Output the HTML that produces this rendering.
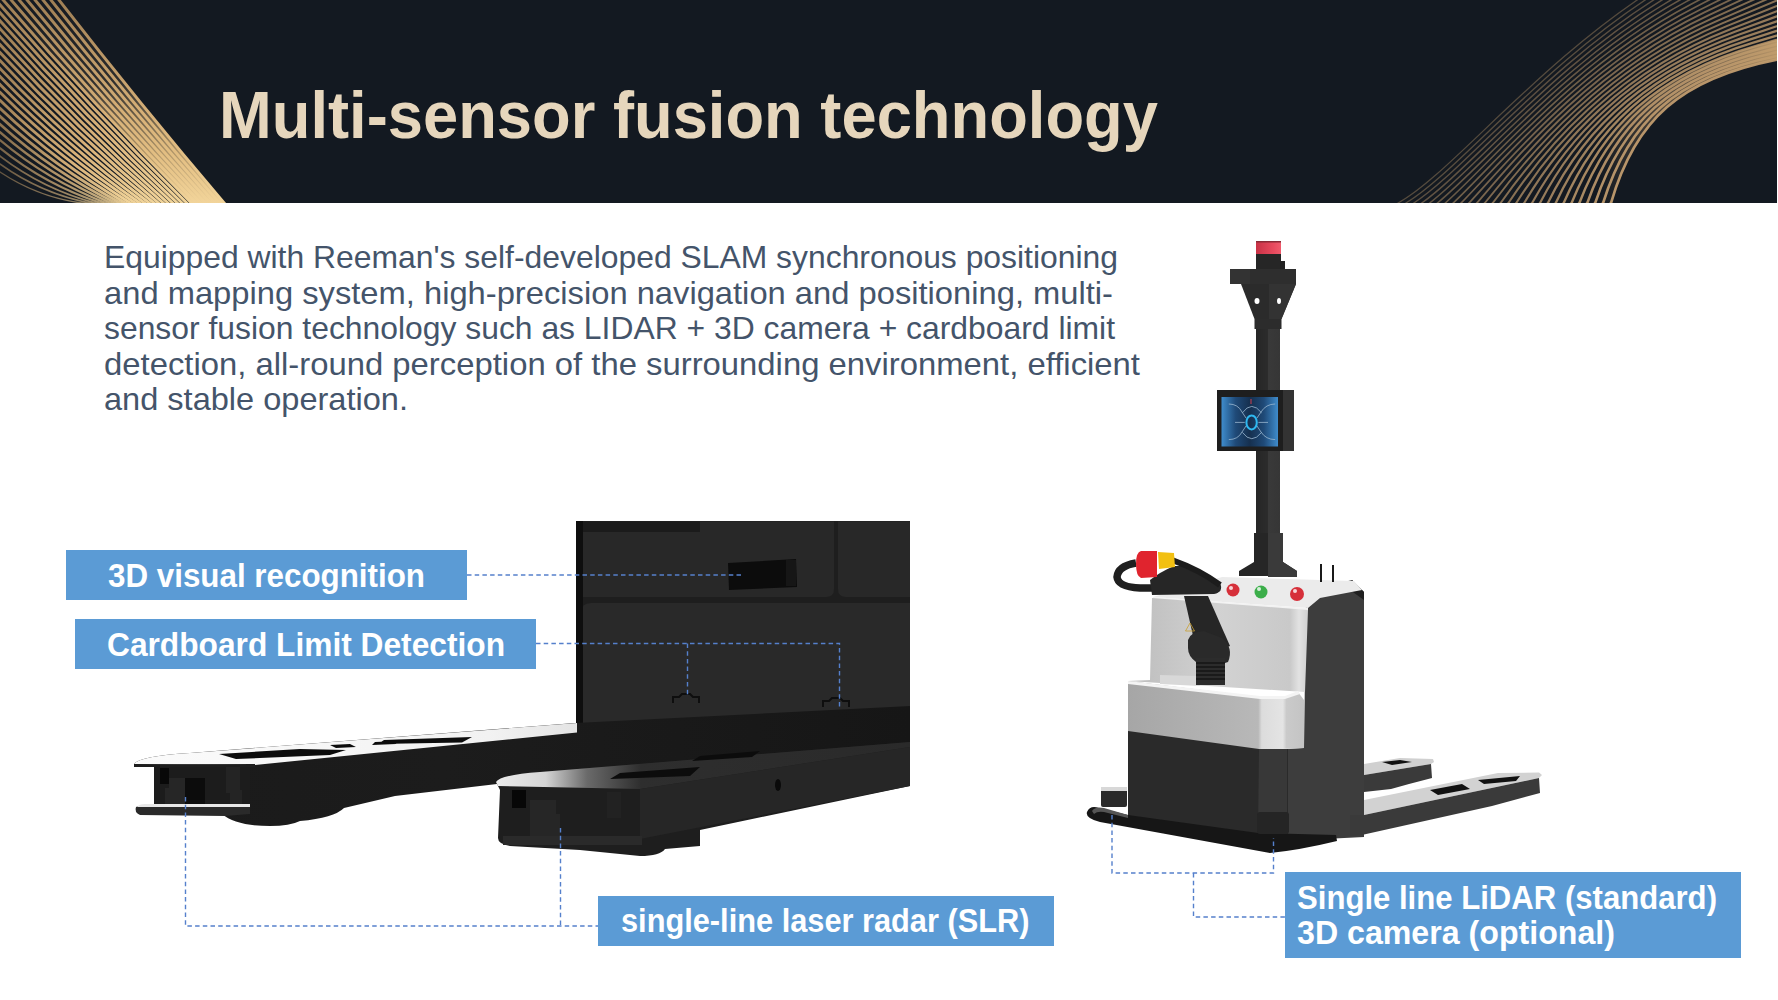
<!DOCTYPE html>
<html><head><meta charset="utf-8">
<style>
html,body{margin:0;padding:0;background:#fff;}
body{width:1778px;height:1000px;overflow:hidden;position:relative;font-family:"Liberation Sans",sans-serif;}
svg{position:absolute;left:0;top:0;}
</style></head>
<body>
<svg width="1778" height="1000" viewBox="0 0 1778 1000">
<defs>
  <linearGradient id="goldL" x1="0" y1="0" x2="1" y2="1">
    <stop offset="0" stop-color="#9a7b52"/>
    <stop offset="0.6" stop-color="#d9b27a"/>
    <stop offset="1" stop-color="#f1d49a"/>
  </linearGradient>
  <linearGradient id="goldR" x1="0" y1="1" x2="1" y2="0">
    <stop offset="0" stop-color="#6b5a44"/>
    <stop offset="0.5" stop-color="#b8956a"/>
    <stop offset="1" stop-color="#c9a577"/>
  </linearGradient>
</defs>
<!-- header -->
<rect x="0" y="0" width="1777" height="203" fill="#131921"/>
<!--CURVES-->
<svg x="0" y="0" width="1777" height="203" overflow="hidden">
<defs><linearGradient id="bandG" x1="0" y1="0" x2="0" y2="203" gradientUnits="userSpaceOnUse">
<stop offset="0" stop-color="#c9a06a" stop-opacity="0"/><stop offset="0.4" stop-color="#cfa870" stop-opacity="0.15"/>
<stop offset="0.75" stop-color="#e2bd80" stop-opacity="0.75"/><stop offset="1" stop-color="#f2d49a" stop-opacity="1"/></linearGradient>
<linearGradient id="rbandG" x1="1600" y1="0" x2="1777" y2="0" gradientUnits="userSpaceOnUse"><stop offset="0" stop-color="#b8956a" stop-opacity="0"/><stop offset="0.5" stop-color="#b8956a" stop-opacity="0.5"/><stop offset="1" stop-color="#c09c6c" stop-opacity="0.95"/></linearGradient></defs>
<g fill="none" stroke="url(#goldL)">
<path d="M52.7 -7.8 L59.0 0.0 Q139.7 103.9 225.0 204.0" stroke-width="2.90" stroke-opacity="1.00"/>
<path d="M44.6 -7.7 L51.0 0.0 Q133.1 104.1 220.3 204.0" stroke-width="2.90" stroke-opacity="1.00"/>
<path d="M36.6 -7.6 L43.1 0.0 Q126.6 104.3 215.7 204.0" stroke-width="2.90" stroke-opacity="1.00"/>
<path d="M28.6 -7.6 L35.1 0.0 Q120.1 104.6 211.0 204.0" stroke-width="2.90" stroke-opacity="1.00"/>
<path d="M20.5 -7.5 L27.1 0.0 Q113.6 104.8 206.4 204.0" stroke-width="2.90" stroke-opacity="1.00"/>
<path d="M12.5 -7.5 L19.2 0.0 Q107.1 105.0 201.7 204.0" stroke-width="2.90" stroke-opacity="1.00"/>
<path d="M4.5 -7.4 L11.2 0.0 Q100.5 105.3 197.1 204.0" stroke-width="2.90" stroke-opacity="1.00"/>
<path d="M-3.6 -7.3 L3.2 0.0 Q94.0 105.5 192.4 204.0" stroke-width="2.90" stroke-opacity="1.00"/>
<path d="M-6.9 -2.6 L0.0 4.7 Q89.9 108.1 187.8 204.0" stroke-width="2.90" stroke-opacity="1.00"/>
<path d="M-6.9 5.5 L0.0 12.7 Q87.4 112.4 183.1 204.0" stroke-width="2.90" stroke-opacity="1.00"/>
<path d="M-7.0 13.5 L0.0 20.7 Q84.9 116.6 178.4 204.0" stroke-width="2.90" stroke-opacity="1.00"/>
<path d="M-7.0 21.5 L0.0 28.6 Q82.3 120.8 173.8 204.0" stroke-width="2.90" stroke-opacity="1.00"/>
<path d="M-7.1 29.6 L0.0 36.6 Q79.8 125.1 169.1 204.0" stroke-width="2.90" stroke-opacity="1.00"/>
<path d="M-7.2 37.6 L0.0 44.6 Q77.3 129.3 164.5 204.0" stroke-width="2.90" stroke-opacity="1.00"/>
<path d="M-7.3 45.6 L0.0 52.5 Q74.9 133.6 159.8 204.0" stroke-width="2.90" stroke-opacity="1.00"/>
<path d="M-7.3 53.7 L0.0 60.5 Q72.4 137.9 155.2 204.0" stroke-width="2.90" stroke-opacity="1.00"/>
<path d="M-7.4 61.8 L0.0 68.4 Q69.9 142.1 150.5 204.0" stroke-width="2.90" stroke-opacity="1.00"/>
<path d="M-7.5 69.8 L0.0 76.4 Q67.5 146.4 145.9 204.0" stroke-width="2.90" stroke-opacity="1.00"/>
<path d="M-7.6 77.9 L0.0 84.4 Q65.1 150.7 141.2 204.0" stroke-width="2.90" stroke-opacity="1.00"/>
<path d="M-7.7 86.0 L0.0 92.3 Q62.6 155.1 136.6 204.0" stroke-width="2.90" stroke-opacity="1.00"/>
<path d="M-7.9 94.1 L0.0 100.3 Q60.3 159.4 131.9 204.0" stroke-width="2.90" stroke-opacity="1.00"/>
<path d="M-8.0 102.3 L0.0 108.3 Q57.9 163.7 127.2 204.0" stroke-width="2.90" stroke-opacity="0.96"/>
<path d="M-8.1 110.4 L0.0 116.2 Q55.6 168.1 122.6 204.0" stroke-width="2.85" stroke-opacity="0.91"/>
<path d="M-8.3 118.6 L0.0 124.2 Q53.3 172.5 117.9 204.0" stroke-width="2.64" stroke-opacity="0.86"/>
<path d="M-8.4 126.8 L0.0 132.2 Q51.0 176.9 113.3 204.0" stroke-width="2.43" stroke-opacity="0.81"/>
<path d="M-8.6 135.1 L0.0 140.1 Q48.9 181.3 108.6 204.0" stroke-width="2.23" stroke-opacity="0.76"/>
<path d="M-8.8 143.4 L0.0 148.1 Q46.7 185.8 104.0 204.0" stroke-width="2.02" stroke-opacity="0.71"/>
<path d="M-9.0 151.7 L0.0 156.1 Q44.7 190.3 99.3 204.0" stroke-width="1.81" stroke-opacity="0.65"/>
<path d="M-9.2 160.1 L0.0 164.0 Q42.8 194.8 94.7 204.0" stroke-width="1.61" stroke-opacity="0.60"/>
<path d="M-9.4 168.6 L0.0 172.0 Q41.0 199.3 90.0 204.0" stroke-width="1.40" stroke-opacity="0.55"/>
</g>
<path d="M59.0 0.0 L67.5 10.9 L76.0 21.8 L84.6 32.7 L93.2 43.6 L101.8 54.4 L110.4 65.2 L119.1 76.0 L127.8 86.8 L136.5 97.6 L145.2 108.3 L154.0 119.0 L162.8 129.7 L171.6 140.4 L180.4 151.1 L189.3 161.7 L198.2 172.3 L207.1 182.9 L216.0 193.5 L225.0 204.0 L192.4 204.0 L182.1 193.6 L171.8 183.2 L161.5 172.7 L151.3 162.2 L141.2 151.7 L131.0 141.1 L121.0 130.5 L110.9 119.8 L100.9 109.1 L91.0 98.4 L81.0 87.6 L71.2 76.8 L61.3 65.9 L51.6 55.0 L41.8 44.1 L32.1 33.1 L22.4 22.1 L12.8 11.1 L3.2 0.0 Z" fill="url(#bandG)"/>
<g fill="none" stroke="#b8956a">
<path d="M1392.0 209.0 L1398.0 203.0 C1450.0 175.0 1540.0 60.0 1660.0 -15.0 L1732.0 -60.0" stroke-width="1.30" stroke-opacity="0.40"/>
<path d="M1399.9 209.0 L1405.9 203.0 C1456.9 173.0 1545.2 60.7 1664.4 -12.3 L1736.0 -56.0" stroke-width="1.35" stroke-opacity="0.42"/>
<path d="M1407.8 209.0 L1413.8 203.0 C1463.7 170.9 1550.4 61.3 1668.9 -9.5 L1740.0 -52.0" stroke-width="1.40" stroke-opacity="0.44"/>
<path d="M1415.7 209.0 L1421.7 203.0 C1470.6 168.9 1555.6 62.0 1673.3 -6.8 L1744.0 -48.0" stroke-width="1.46" stroke-opacity="0.47"/>
<path d="M1423.6 209.0 L1429.6 203.0 C1477.4 166.9 1560.7 62.7 1677.8 -4.0 L1748.0 -44.1" stroke-width="1.51" stroke-opacity="0.49"/>
<path d="M1431.4 209.0 L1437.4 203.0 C1484.3 164.8 1565.9 63.3 1682.2 -1.3 L1752.0 -40.1" stroke-width="1.56" stroke-opacity="0.51"/>
<path d="M1439.3 209.0 L1445.3 203.0 C1491.1 162.8 1571.1 64.0 1686.7 1.4 L1756.0 -36.1" stroke-width="1.61" stroke-opacity="0.53"/>
<path d="M1447.2 209.0 L1453.2 203.0 C1498.0 160.7 1576.3 64.7 1691.1 4.2 L1760.0 -32.1" stroke-width="1.66" stroke-opacity="0.56"/>
<path d="M1455.1 209.0 L1461.1 203.0 C1504.8 158.7 1581.5 65.3 1695.6 6.9 L1764.0 -28.1" stroke-width="1.71" stroke-opacity="0.58"/>
<path d="M1463.0 209.0 L1469.0 203.0 C1511.7 156.7 1586.7 66.0 1700.0 9.7 L1768.0 -24.1" stroke-width="1.77" stroke-opacity="0.60"/>
<path d="M1470.9 209.0 L1476.9 203.0 C1518.5 154.6 1591.9 66.7 1704.4 12.4 L1772.0 -20.1" stroke-width="1.82" stroke-opacity="0.62"/>
<path d="M1478.8 209.0 L1484.8 203.0 C1525.4 152.6 1597.0 67.3 1708.9 15.1 L1776.0 -16.2" stroke-width="1.87" stroke-opacity="0.64"/>
<path d="M1486.7 209.0 L1492.7 203.0 C1532.2 150.6 1602.2 68.0 1713.3 17.9 L1780.0 -12.2" stroke-width="1.92" stroke-opacity="0.67"/>
<path d="M1494.6 209.0 L1500.6 203.0 C1539.1 148.5 1607.4 68.7 1717.8 20.6 L1784.0 -8.2" stroke-width="1.97" stroke-opacity="0.69"/>
<path d="M1502.4 209.0 L1508.4 203.0 C1545.9 146.5 1612.6 69.3 1722.2 23.4 L1788.0 -4.2" stroke-width="2.03" stroke-opacity="0.71"/>
<path d="M1510.3 209.0 L1516.3 203.0 C1552.8 144.4 1617.8 70.0 1726.7 26.1 L1792.0 -0.2" stroke-width="2.08" stroke-opacity="0.73"/>
<path d="M1518.2 209.0 L1524.2 203.0 C1559.6 142.4 1623.0 70.7 1731.1 28.9 L1796.0 3.8" stroke-width="2.13" stroke-opacity="0.76"/>
<path d="M1526.1 209.0 L1532.1 203.0 C1566.5 140.4 1628.1 71.3 1735.6 31.6 L1800.0 7.7" stroke-width="2.18" stroke-opacity="0.78"/>
<path d="M1534.0 209.0 L1540.0 203.0 C1573.3 138.3 1633.3 72.0 1740.0 34.3 L1804.0 11.7" stroke-width="2.23" stroke-opacity="0.80"/>
<path d="M1541.9 209.0 L1547.9 203.0 C1580.2 136.3 1638.5 72.7 1744.4 37.1 L1808.0 15.7" stroke-width="2.29" stroke-opacity="0.82"/>
<path d="M1549.8 209.0 L1555.8 203.0 C1587.0 134.3 1643.7 73.3 1748.9 39.8 L1812.0 19.7" stroke-width="2.34" stroke-opacity="0.84"/>
<path d="M1557.7 209.0 L1563.7 203.0 C1593.9 132.2 1648.9 74.0 1753.3 42.6 L1816.0 23.7" stroke-width="2.39" stroke-opacity="0.87"/>
<path d="M1565.6 209.0 L1571.6 203.0 C1600.7 130.2 1654.1 74.7 1757.8 45.3 L1820.0 27.7" stroke-width="2.44" stroke-opacity="0.89"/>
<path d="M1573.4 209.0 L1579.4 203.0 C1607.6 128.1 1659.3 75.3 1762.2 48.0 L1824.0 31.7" stroke-width="2.49" stroke-opacity="0.91"/>
<path d="M1581.3 209.0 L1587.3 203.0 C1614.4 126.1 1664.4 76.0 1766.7 50.8 L1828.0 35.6" stroke-width="2.54" stroke-opacity="0.93"/>
<path d="M1589.2 209.0 L1595.2 203.0 C1621.3 124.1 1669.6 76.7 1771.1 53.5 L1832.0 39.6" stroke-width="2.60" stroke-opacity="0.96"/>
<path d="M1597.1 209.0 L1603.1 203.0 C1628.1 122.0 1674.8 77.3 1775.6 56.3 L1836.0 43.6" stroke-width="2.65" stroke-opacity="0.98"/>
<path d="M1605.0 209.0 L1611.0 203.0 C1635.0 120.0 1680.0 78.0 1780.0 59.0 L1840.0 47.6" stroke-width="2.70" stroke-opacity="1.00"/>
</g>
<path d="M1611.0 203.0 L1613.6 194.6 L1616.3 186.4 L1619.2 178.5 L1622.2 170.9 L1625.5 163.6 L1628.9 156.6 L1632.5 149.8 L1636.4 143.3 L1640.4 137.0 L1644.7 131.0 L1649.2 125.3 L1654.0 119.8 L1659.0 114.5 L1664.3 109.4 L1669.8 104.6 L1675.6 100.0 L1681.7 95.7 L1688.1 91.5 L1694.8 87.6 L1701.8 83.9 L1709.1 80.4 L1716.7 77.0 L1724.7 73.9 L1733.0 71.0 L1741.7 68.2 L1750.7 65.7 L1760.1 63.3 L1769.8 61.0 L1780.0 59.0 L1840.0 47.6 L1820.0 27.7 L1757.8 45.3 L1747.2 48.4 L1737.0 51.7 L1727.2 55.2 L1717.7 58.9 L1708.5 62.8 L1699.6 66.8 L1691.1 71.0 L1682.9 75.4 L1675.0 79.9 L1667.4 84.6 L1660.1 89.5 L1653.1 94.6 L1646.3 99.8 L1639.9 105.1 L1633.7 110.6 L1627.7 116.3 L1622.0 122.1 L1616.6 128.1 L1611.4 134.2 L1606.5 140.5 L1601.8 146.9 L1597.3 153.4 L1593.0 160.1 L1588.9 166.9 L1585.1 173.9 L1581.4 181.0 L1577.9 188.2 L1574.7 195.5 L1571.6 203.0 Z" fill="url(#rbandG)"/>
</svg>
<!--/CURVES-->

<!-- title -->
<text x="219" y="137.5" font-family="Liberation Sans" font-weight="bold" font-size="66" fill="#e6d6bc" textLength="939" lengthAdjust="spacingAndGlyphs">Multi-sensor fusion technology</text>

<!-- paragraph -->
<g font-family="Liberation Sans" font-size="31.6" fill="#44546a">
<text x="104" y="268" textLength="1014" lengthAdjust="spacingAndGlyphs">Equipped with Reeman's self-developed SLAM synchronous positioning</text>
<text x="104" y="303.5" textLength="1009" lengthAdjust="spacingAndGlyphs">and mapping system, high-precision navigation and positioning, multi-</text>
<text x="104" y="339" textLength="1011" lengthAdjust="spacingAndGlyphs">sensor fusion technology such as LIDAR + 3D camera + cardboard limit</text>
<text x="104" y="374.5" textLength="1036" lengthAdjust="spacingAndGlyphs">detection, all-round perception of the surrounding environment, efficient</text>
<text x="104" y="410" textLength="304" lengthAdjust="spacingAndGlyphs">and stable operation.</text>
</g>

<!--FORKS-->
<defs>
  <linearGradient id="ftopL" x1="0" y1="0" x2="1" y2="0">
    <stop offset="0" stop-color="#fbfbfb"/>
    <stop offset="0.8" stop-color="#f2f2f2"/>
    <stop offset="1" stop-color="#e4e4e4"/>
  </linearGradient>
  <linearGradient id="ftopR" x1="0" y1="0" x2="1" y2="0">
    <stop offset="0" stop-color="#ececec"/>
    <stop offset="0.12" stop-color="#d4d4d4"/>
    <stop offset="0.22" stop-color="#6a6a6a"/>
    <stop offset="0.35" stop-color="#2e2e2e"/>
    <stop offset="1" stop-color="#2a2a2a"/>
  </linearGradient>
  <linearGradient id="sideL" x1="0" y1="0" x2="1" y2="0">
    <stop offset="0" stop-color="#1a1a1a"/>
    <stop offset="0.4" stop-color="#1c1c1c"/>
    <stop offset="1" stop-color="#161616"/>
  </linearGradient>
</defs>
<!-- back panel -->
<rect x="576" y="521" width="334" height="240" fill="#1e1e1e"/>
<path d="M579 521.5 H834 V589 Q834 597 826 597 H579 Z" fill="#282828"/>
<path d="M838 521.5 H910 V597 H846 Q838 597 838 589 Z" fill="#282828"/>
<path d="M579 521.5 H700 V532 H579 Z" fill="#1b1b1b"/>
<path d="M581 613 Q581 603 591 603 H910 V736 H581 Z" fill="#292929"/>
<path d="M576 521 H583 V740 H576 Z" fill="#0e0e0e"/>
<!-- camera module -->
<path d="M728 563 L796 559 L797 587 L729 590 Z" fill="#0c0c0c"/>
<path d="M786 560 h10 v26 h-10 z" fill="#161616"/>
<!-- limit sensors -->
<path d="M673 703 v-6 h6 l3 -3 h8 l3 3 h6 v6" fill="none" stroke="#0e0e0e" stroke-width="2"/>
<path d="M823 707 v-6 h6 l3 -3 h8 l3 3 h6 v6" fill="none" stroke="#0e0e0e" stroke-width="2"/>
<!-- left fork -->
<path d="M134 764 Q140 756 190 753 L575 723 L910 706 L910 748 L640 770 L497 784 L395 796 L344 808 Q334 818 300 821 Q290 826 270 826 Q236 826 222 814 L154 814 L154 767 L134 767 Z" fill="url(#sideL)"/>
<path d="M134 764 Q140 756 190 753 L577 723 L577 732.5 L255 765 Z" fill="url(#ftopL)"/>
<path d="M219 754 L300 749 L346 750 L330 755 L236 759 Z M330 745 L350 744 L356 747 L336 748 Z M375 742 L400 741 L396 744 L372 745 Z M384 740 L472 737 L462 742.5 L378 744 Z" fill="#0c0c0c"/>
<path d="M154 767 H250 V808 H154 Z" fill="#1c1c1c"/>
<path d="M160 768 h9 v16 h-9 z" fill="#080808"/>
<path d="M165 788 h20 v22 h-20 z M169 778 h26 v12 h-26 z" fill="#262626"/>
<path d="M185 778 h20 v30 h-20 z" fill="#0c0c0c"/>
<path d="M226 767 h14 v26 h-14 z M230 790 h12 v16 h-12 z" fill="#242424"/>
<path d="M136 807 Q134 812 140 815 L225 816 L250 814 L250 807 L145 806 Q138 806 136 807 Z" fill="#2a2a2a"/>
<path d="M137 807 Q139 804 145 804 L250 804 L250 807 L145 807 Z" fill="#e8e8e8"/>
<path d="M134 764.5 L255 764 L255 767 L134 767 Z" fill="#1e1e1e"/>
<!-- right fork -->
<path d="M496 782 Q500 775 540 772 L910 742 L910 786 L700 830 L700 846 L665 849 Q660 856 640 856 L580 850 L510 846 Q498 844 498 838 L500 790 Z" fill="#1e1e1e"/>
<path d="M496 782 Q500 775 540 772 L910 742 L910 747 L640 789 L498 786 Z" fill="url(#ftopR)"/>
<path d="M620 773 L700 767 L690 776 L610 779 Z M700 756 L760 751 L752 757 L692 761 Z" fill="#0c0c0c"/>
<path d="M640 789 L910 747 L910 786 L640 839 Z" fill="#262626"/>
<path d="M503 789 H640 V838 H503 Z" fill="#1e1e1e"/>
<path d="M503 836 H642 V845 H503 Z" fill="#2a2a2a"/>
<path d="M512 790 h14 v18 h-14 z" fill="#070707"/>
<path d="M530 800 h26 v14 h-26 z M530 814 h30 v22 h-30 z" fill="#262626"/>
<path d="M607 792 h14 v26 h-14 z" fill="#222"/>
<ellipse cx="778" cy="785" rx="3" ry="6" fill="#0a0a0a"/>
<!--/FORKS-->

<!--ROBOT-->
<defs>
  <linearGradient id="poleG" x1="0" y1="0" x2="1" y2="0">
    <stop offset="0" stop-color="#262626"/>
    <stop offset="0.5" stop-color="#2c2c2c"/>
    <stop offset="0.52" stop-color="#393939"/>
    <stop offset="1" stop-color="#363636"/>
  </linearGradient>
  <linearGradient id="frontG" x1="0" y1="0" x2="1" y2="0">
    <stop offset="0" stop-color="#bcbcbc"/>
    <stop offset="0.5" stop-color="#d2d2d2"/>
    <stop offset="0.9" stop-color="#c9c9c9"/>
    <stop offset="0.95" stop-color="#e2e2e2"/>
    <stop offset="1" stop-color="#d0d0d0"/>
  </linearGradient>
  <linearGradient id="bumpG" x1="0" y1="0" x2="1" y2="0">
    <stop offset="0" stop-color="#a6a6a6"/>
    <stop offset="0.74" stop-color="#b8b8b8"/>
    <stop offset="0.76" stop-color="#dcdcdc"/>
    <stop offset="0.88" stop-color="#e4e4e4"/>
    <stop offset="0.9" stop-color="#cacaca"/>
    <stop offset="1" stop-color="#c4c4c4"/>
  </linearGradient>
  <linearGradient id="screenG" x1="0" y1="0" x2="1" y2="0">
    <stop offset="0" stop-color="#3f8ccc"/>
    <stop offset="0.25" stop-color="#1f4a78"/>
    <stop offset="0.5" stop-color="#16304f"/>
    <stop offset="0.75" stop-color="#1f4a78"/>
    <stop offset="1" stop-color="#3f8ccc"/>
  </linearGradient>
  <linearGradient id="redG" x1="0" y1="0" x2="1" y2="0">
    <stop offset="0" stop-color="#c83246"/>
    <stop offset="0.7" stop-color="#e84a5e"/>
    <stop offset="1" stop-color="#f05a6c"/>
  </linearGradient>
</defs>
<!-- beacon -->
<rect x="1256" y="241" width="25" height="14" rx="1.5" fill="url(#redG)"/>
<rect x="1256" y="241" width="25" height="1.5" fill="#8a2a36"/>
<rect x="1256" y="254" width="25" height="15" fill="#262626"/>
<rect x="1280" y="261" width="5" height="8" fill="#222"/>
<!-- top plate & funnel -->
<path d="M1230 269 H1296 V284 H1230 Z" fill="#2e2e2e"/>
<path d="M1230 269 H1250 V284 H1230 Z" fill="#333"/>
<path d="M1241 284 H1296 L1281.5 319 H1254.5 Z" fill="#2b2b2b"/>
<path d="M1269 284 H1296 L1281.5 319 H1269 Z" fill="#333"/>
<ellipse cx="1257" cy="301" rx="2.5" ry="3" fill="#fff"/>
<ellipse cx="1279" cy="301" rx="2" ry="3" fill="#fff"/>
<rect x="1254.5" y="319" width="27" height="10" fill="#2c2c2c"/>
<!-- pole -->
<rect x="1256" y="329" width="24" height="210" fill="url(#poleG)"/>
<path d="M1254 533 H1283 V562 L1297 571 V576 H1239 V571 L1254 562 Z" fill="#262626"/>
<path d="M1268 533 H1283 V562 L1297 571 V577 H1268 Z" fill="#3a3a3a"/>
<!-- screen -->
<rect x="1217" y="390" width="67" height="61" fill="#1e1e1e"/>
<rect x="1283" y="390" width="11" height="61" fill="#333"/>
<rect x="1221.5" y="397" width="56.5" height="49.5" fill="url(#screenG)"/>
<ellipse cx="1251.6" cy="422.4" rx="5.2" ry="7" fill="none" stroke="#2fb8f0" stroke-width="2"/>
<path d="M1228.8 404 Q1238 404 1242 412 L1246 418 M1275.2 404 Q1266 404 1261 412 L1257 418 M1228.8 439.6 Q1238 439.6 1242 432 L1246 426 M1275.2 439.6 Q1266 439.6 1261 432 L1257 426 M1242.4 412.8 Q1251.6 400 1261.6 412.8 M1242.4 432.4 Q1251.6 445 1261.6 432.4 M1235 422.4 H1244.8 M1258.4 422.4 H1268" fill="none" stroke="#9ab8d0" stroke-width="0.8"/>
<path d="M1251 399 v5" stroke="#d04050" stroke-width="1"/>
<!-- right black side -->
<path d="M1306 600 Q1310 590 1322 588 L1352 580 L1364 592 L1364 837 L1285 841 L1286 749 L1304 748 Z" fill="#3d3d3d"/>
<path d="M1352 580 L1364 592 L1364 600 L1350 590 Z" fill="#1f1f1f"/>
<!-- top surface -->
<path d="M1222 577 L1354 581 L1362 590 L1320 598 L1308 608 L1153 597 Z" fill="#ebebeb"/>
<path d="M1153 597 L1308 608 L1308 611 L1153 600 Z" fill="#f2f2f2"/>
<!-- antennas -->
<path d="M1321 564 V582 M1333 565 V582" stroke="#1a1a1a" stroke-width="2"/>
<!-- front upper grey -->
<path d="M1152 598 L1308 610 L1305 692 L1128 681 L1150 680 Z" fill="url(#frontG)"/>
<path d="M1160 675 L1196 676 L1200 686 L1160 684 Z" fill="#d8d8d8"/>
<!-- bumper -->
<path d="M1128 681 L1260 697 L1285 697 L1298 692 L1304 700 L1304 748 L1259 750 L1128 732 Z" fill="url(#bumpG)"/>
<path d="M1128 681 L1260 696 L1285 696 L1298 691 L1300 694 L1285 699 L1260 699 L1128 684 Z" fill="#f4f4f4"/>
<!-- lower black body -->
<path d="M1128 731 L1259 749 L1288 749 L1288 838 L1258 834 L1128 816 Z" fill="#2a2a2a"/>
<path d="M1259 749 L1287 749 L1287 834 L1258 834 Z" fill="#383838"/>
<!-- base plate -->
<path d="M1099 808 L1128 815 L1258 833 L1336 835 L1337 841 Q1300 850 1270 853 L1100 822 Q1085 818 1087 812 Q1090 805 1099 808 Z" fill="#161616"/>
<path d="M1092 811 Q1095 806 1104 808 L1128 815 L1128 818 L1104 812 Q1097 811 1094 814 Z" fill="#555"/>
<rect x="1101" y="788" width="26" height="19" rx="2" fill="#2a2a2a"/>
<rect x="1101" y="787" width="26" height="4" fill="#d8d8d8"/>
<rect x="1257" y="812" width="32" height="22" rx="3" fill="#252525"/>
<!-- handle -->
<path d="M1136 563 Q1118 566 1117 577 Q1118 587 1140 588 L1152 588" fill="none" stroke="#1f1f1f" stroke-width="7.5"/>
<path d="M1150 580 Q1160 572 1174 566 L1185 566 L1220 583 Q1224 592 1214 594 L1152 595 Z" fill="#262626"/>
<path d="M1172 560 Q1200 570 1220 585" fill="none" stroke="#1c1c1c" stroke-width="6"/>
<path d="M1184 596 L1208 596 L1230 646 L1214 652 L1194 640 Z" fill="#262626"/>
<path d="M1188 640 Q1190 632 1204 631 L1222 638 Q1234 648 1228 662 L1216 666 L1196 662 Q1188 656 1188 648 Z" fill="#2a2a2a"/>
<rect x="1196" y="658" width="29" height="27" fill="#2c2c2c"/>
<path d="M1196 663 h29 M1196 667 h29 M1196 671 h29 M1196 675 h29 M1196 679 h29" stroke="#151515" stroke-width="1.4"/>
<path d="M1141 551 Q1136 552 1136 564 Q1136 576 1141 578 L1157 577 L1157 551 Z" fill="#e0242e"/>
<path d="M1158 552 L1174 553 L1175 567 L1159 569 Z" fill="#f2c012"/>
<path d="M1190 623 L1185.5 631 L1194.5 631 Z" fill="none" stroke="#c9a030" stroke-width="0.8"/>
<!-- buttons -->
<circle cx="1233" cy="590" r="6.5" fill="#d6303a"/>
<circle cx="1261" cy="592" r="6.5" fill="#3cae4a"/>
<circle cx="1297" cy="594" r="7" fill="#d6303a"/>
<circle cx="1231" cy="588" r="2" fill="#fff" opacity="0.8"/>
<circle cx="1259" cy="589" r="2" fill="#fff" opacity="0.8"/>
<circle cx="1295" cy="591" r="2" fill="#fff" opacity="0.8"/>
<!-- back fork -->
<path d="M1364 764 L1400 758 L1433 759 L1434 762 L1431 764 L1364 775 Z" fill="#d0d0d0"/>
<path d="M1382 762 L1400 760 L1412 762 L1392 765 Z" fill="#111"/>
<path d="M1364 775 L1431 764 L1432 778 L1409 784 L1391 789 L1364 792 Z" fill="#3a3a3a"/>
<!-- front fork -->
<path d="M1364 800 L1498 773 L1539 772.5 L1542 775 L1539 778 L1364 815 Z" fill="#d2d2d2"/>
<path d="M1364 815 L1539 778 L1540 793 L1492 806 L1364 834.5 L1350 836 L1350 815 Z" fill="#3a3a3a"/>
<path d="M1430 790 L1462 784 L1470 789 L1438 795 Z M1478 780 L1520 776 L1516 781 L1484 784 Z" fill="#111"/>
<!--/ROBOT-->


<!-- dashed connectors -->
<g fill="none" stroke="#5580cc" stroke-width="1.4" stroke-dasharray="4.5 3.2">
  <path d="M467 575 H743"/>
  <path d="M536 643.5 H839.5 V707"/>
  <path d="M687.5 643.5 V697"/>
  <path d="M185.5 797 V926 H598"/>
  <path d="M560.5 828 V926"/>
  <path d="M1112 815 V873 H1273.5 V838"/>
  <path d="M1193.5 873 V917 H1285"/>
</g>

<!-- labels -->
<rect x="66" y="550" width="401" height="50" fill="#5b9bd5"/>
<rect x="75" y="619" width="461" height="50" fill="#5b9bd5"/>
<rect x="598" y="896" width="456" height="50" fill="#5b9bd5"/>
<rect x="1285" y="872" width="456" height="86" fill="#5b9bd5"/>
<g font-family="Liberation Sans" font-weight="bold" font-size="32.5" fill="#ffffff">
<text x="108" y="586.5" textLength="317" lengthAdjust="spacingAndGlyphs">3D visual recognition</text>
<text x="107" y="655.5" textLength="398" lengthAdjust="spacingAndGlyphs">Cardboard Limit Detection</text>
<text x="621" y="932" textLength="408.5" lengthAdjust="spacingAndGlyphs">single-line laser radar (SLR)</text>
<text x="1297" y="908.5" textLength="420" lengthAdjust="spacingAndGlyphs">Single line LiDAR (standard)</text>
<text x="1297" y="943.5" textLength="318" lengthAdjust="spacingAndGlyphs">3D camera (optional)</text>
</g>
</svg>
</body></html>
